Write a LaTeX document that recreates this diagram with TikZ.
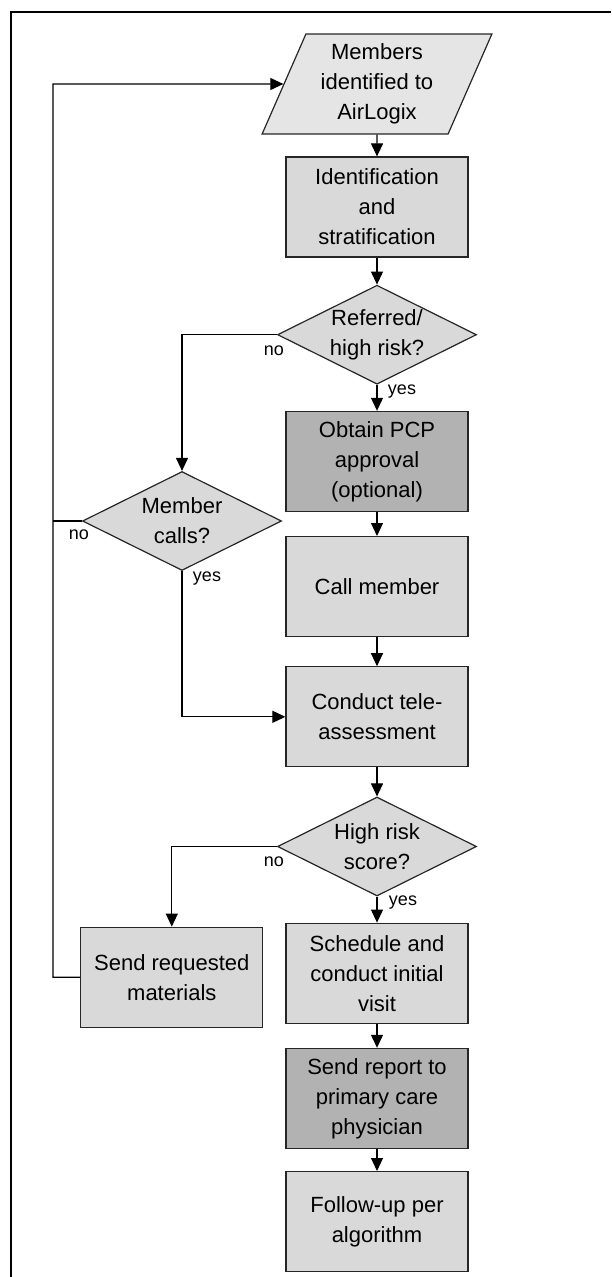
\documentclass[tikz,border=0pt]{standalone}
\usepackage{fontspec}
\setmainfont{Liberation Sans}
\usetikzlibrary{shapes,arrows.meta,positioning}
\tikzstyle{procbox} = [draw=black!85, fill=gray!30, line width=1.2pt,
    rectangle, minimum width=182pt, minimum height=100pt, inner sep=0pt,
    align=center, font=\fontsize{22}{30}\selectfont]
\tikzstyle{darkbox} = [procbox, fill=gray!60]
\tikzstyle{inputbox} = [procbox, fill=gray!20, trapezium,
    trapezium left angle=66.7, trapezium right angle=113.3,
    trapezium stretches=true, minimum width=230pt]
\tikzstyle{decision} = [procbox, diamond, aspect=2,
    minimum width=199pt, minimum height=99pt]
\tikzstyle{answer} = [font=\fontsize{18}{18}\selectfont, inner sep=0pt]
\tikzstyle{line} = [line width=1.1pt, black]
\tikzstyle{arr} = [line, -{Triangle[length=13pt,width=12pt]}]
\begin{document}
\begin{tikzpicture}[x=1pt, y=-1pt]
\useasboundingbox (0,0) rectangle (611,1277);

% frame
\draw[line width=2.5pt] (611,12) -- (11,12) -- (11,1278);

\node [inputbox] (members) at (377,84) {Members\\identified to\\AirLogix};
\node [procbox] (ident) at (377,207) {Identification\\and\\stratification};
\node [decision, below=27pt of ident] (referred) {Referred/\\high risk?};
\node [darkbox, below=26pt of referred] (pcp) {Obtain PCP\\approval\\(optional)};
\node [procbox, below=24pt of pcp] (call) {Call member};
\node [procbox, below=29pt of call] (tele) {Conduct tele-\\assessment};
\node [decision, below=29pt of tele] (highrisk) {High risk\\score?};
\node [procbox, below=26pt of highrisk] (sched) {Schedule and\\conduct initial\\visit};
\node [darkbox, below=24pt of sched] (report) {Send report to\\primary care\\physician};
\node [procbox, below=22pt of report] (follow) {Follow-up per\\algorithm};

\node [decision] (mcalls) at (182,521) {Member\\calls?};
\node [procbox, left=22pt of sched, yshift=-4pt] (sendmat) {Send requested\\materials};

\coordinate (loop) at (53,84);

\node [answer] (refno) at ([shift={(-3,16)}]referred.west) {no};
\node [answer] (refyes) at ([shift={(25,7)}]referred.south) {yes};
\node [answer] (mcno) at ([shift={(-3,14)}]mcalls.west) {no};
\node [answer] (mcyes) at ([shift={(25,7)}]mcalls.south) {yes};
\node [answer] (hrno) at ([shift={(-3,15)}]highrisk.west) {no};
\node [answer] (hryes) at ([shift={(26,6)}]highrisk.south) {yes};

\draw [arr] (members) -- (ident);
\draw [arr] (ident) -- (referred);
\draw [arr] (referred) -- (pcp);
\draw [arr] (pcp) -- (call);
\draw [arr] (call) -- (tele);
\draw [arr] (tele) -- (highrisk);
\draw [arr] (highrisk) -- (sched);
\draw [arr] (sched) -- (report);
\draw [arr] (report) -- (follow);

\draw [arr] (referred.west) -| (mcalls.north);
\draw [arr] (mcalls.south) |- (tele.west);
\draw [arr] (highrisk.west) -| (sendmat.north);
\draw [line] (mcalls.west) -- (mcalls.west -| loop);
\draw [arr] (sendmat.west) -| (loop) -- (members.west);

\end{tikzpicture}
\end{document}
